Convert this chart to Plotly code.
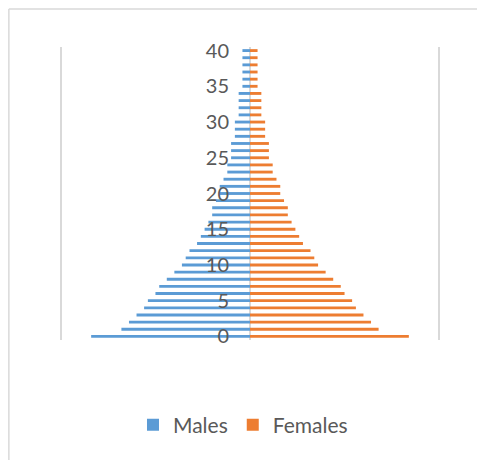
import plotly.graph_objects as go

ages = list(range(0, 41))
females = [42, 34, 32, 30, 28, 27, 25, 24, 22, 20, 18, 17, 16, 14, 13, 12, 11, 10, 10, 9,
           8, 8, 7, 6, 6, 5, 5, 5, 4, 4, 4, 3, 3, 3, 3, 2, 2, 2, 2, 2, 2]
males = [42, 34, 32, 30, 28, 27, 25, 24, 22, 20, 18, 17, 16, 14, 13, 12, 11, 10, 10, 9,
         8, 8, 7, 6, 6, 5, 5, 5, 4, 4, 4, 3, 3, 3, 3, 2, 2, 2, 2, 2, 2]
tick_vals = [0, 5, 10, 15, 20, 25, 30, 35, 40]
tick_text = ["0", "5", "10", "15", "20", "25", "30", "35", "40"]

BLUE = "#5B9BD5"
ORANGE = "#ED7D31"
GRID = "#D9D9D9"
TEXT = "#595959"
FONT = "Lato"

fig = go.Figure()
fig.add_trace(go.Bar(y=ages, x=[-v for v in males], orientation="h", name="Males",
                     marker=dict(color=BLUE, line=dict(width=0))))
fig.add_trace(go.Bar(y=ages, x=females, orientation="h", name="Females",
                     marker=dict(color=ORANGE, line=dict(width=0))))

# page body has an 8px margin: work in figure coordinates = screen - 8
OFF = 8
W, H = 485, 460
XMAX = 50.5
scale = 378 / 100.0  # px per unit
L = 61 - OFF - (XMAX - 50) * scale
right_px = 439 - OFF + (XMAX - 50) * scale
R = W - right_px
T, B = 47 - OFF, H - (340 - OFF)
pw, ph = W - L - R, H - T - B

def fx(p):  # figure pixel -> paper fraction
    return (p - L) / pw

def fy(p):
    return (H - B - p) / ph

border = dict(color=GRID, width=1.5)
fig.update_layout(
    width=W, height=H,
    margin=dict(l=L, r=R, t=T, b=B, pad=0),
    paper_bgcolor="white", plot_bgcolor="white",
    barmode="relative", bargap=0.6,
    font=dict(family=FONT, color=TEXT, size=21),
    showlegend=True,
    legend=dict(orientation="h", x=0.5 - 7 / pw, xanchor="center", y=fy(425 - OFF), yanchor="middle",
                font=dict(family=FONT, color=TEXT, size=21), traceorder="normal"),
    xaxis=dict(range=[-XMAX, XMAX], tickvals=[-50, 0, 50], showticklabels=False,
               showgrid=True, gridcolor=GRID, gridwidth=1.5,
               zeroline=True, zerolinecolor=GRID, zerolinewidth=1.5,
               showline=False, fixedrange=True),
    yaxis=dict(range=[-0.5, 40.5], tickvals=tick_vals, ticktext=tick_text,
               anchor="free", position=0.5, showgrid=False, zeroline=False,
               showline=False, ticks="", ticklabelstandoff=21,
               tickfont=dict(family=FONT, color=TEXT, size=20), fixedrange=True),
    shapes=[
        dict(type="line", xref="paper", yref="paper",
             x0=fx(1), x1=fx(1), y0=fy(H), y1=fy(9 - OFF), line=border, layer="below"),
        dict(type="line", xref="paper", yref="paper",
             x0=fx(1), x1=fx(W), y0=fy(9 - OFF), y1=fy(9 - OFF), line=border, layer="below"),
    ],
)

fig.write_html("out.html")
